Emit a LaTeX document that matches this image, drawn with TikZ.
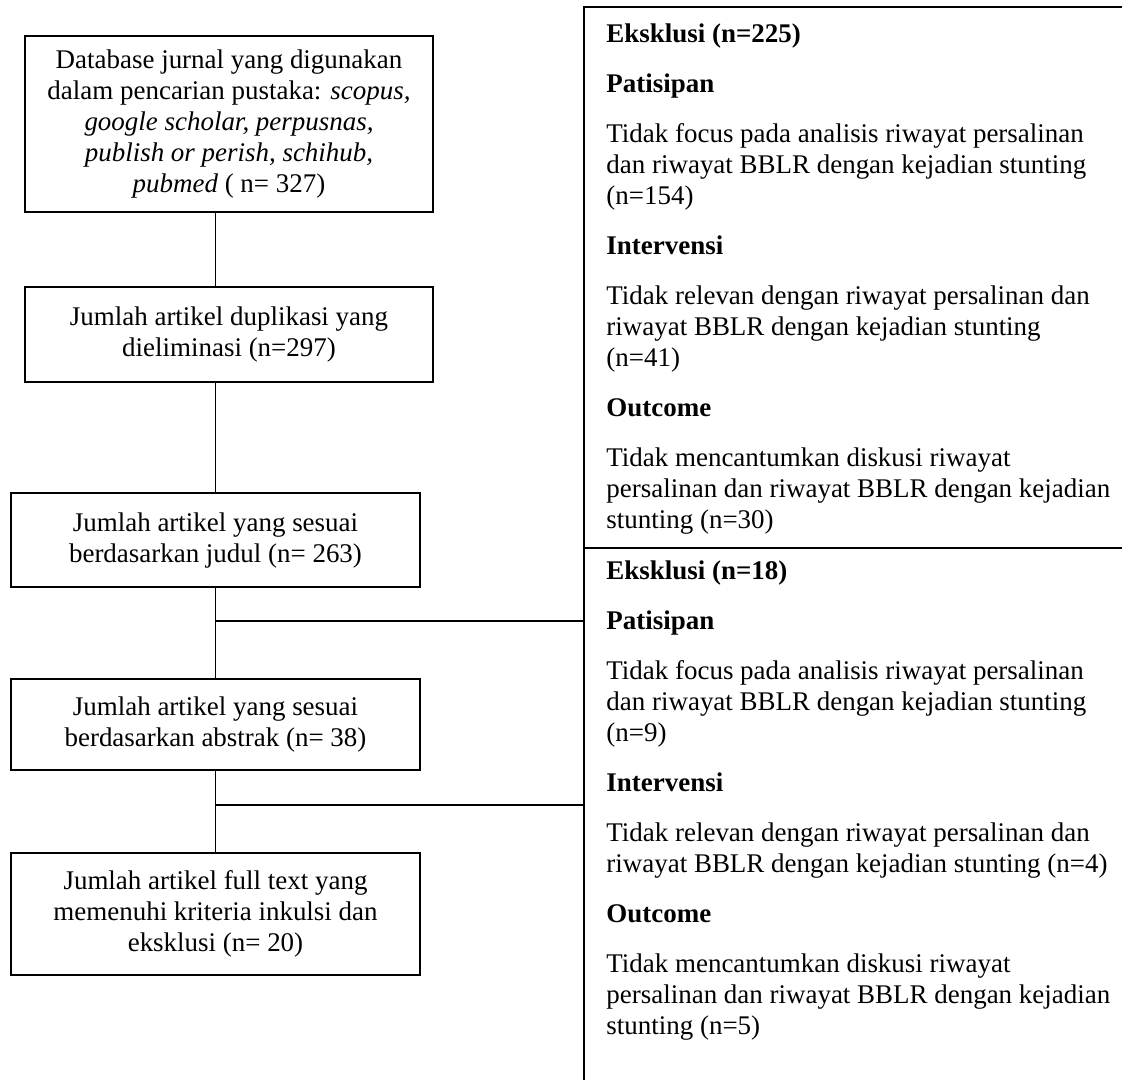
\documentclass[tikz,border=0pt]{standalone}
\usepackage{fontspec}
\setmainfont{Liberation Serif}
\newlength\pxu
\setlength\pxu{0.4452pt}
\newcommand\pgap{8.5pt}
\begin{document}
\begin{tikzpicture}[x=0.4452pt, y=-0.4452pt,
  box/.style={draw, line width=1pt, align=center, inner sep=0pt, minimum width=409\pxu, font=\fontsize{12}{13.8}\selectfont},
  wide/.style={box, minimum width=408\pxu},
  reason/.style={align=left, inner sep=0pt, anchor=north west, font=\fontsize{12}{13.8}\selectfont},
  link/.style={line width=0.7pt},
  frame/.style={line width=1pt}]
\useasboundingbox (0,0) rectangle (1122,1080);
% left column
\node[wide, minimum height=176\pxu] (b1) at (229,124) {Database jurnal yang digunakan\\ dalam pencarian pustaka: \textit{scopus,}\\ \textit{google scholar, perpusnas,}\\ \textit{publish or perish, schihub,}\\ \textit{pubmed} ( n= 327)};
\node[wide, minimum height=95\pxu] (b2) at (229,334.5) {Jumlah artikel duplikasi yang\\ dieliminasi (n=297)};
\node[box, minimum height=94\pxu] (b3) at (215.5,540) {Jumlah artikel yang sesuai\\ berdasarkan judul (n= 263)};
\node[box, minimum height=91\pxu] (b4) at (215.5,724.5) {Jumlah artikel yang sesuai\\ berdasarkan abstrak (n= 38)};
\node[box, minimum height=122\pxu] (b5) at (215.5,914) {Jumlah artikel full text yang\\ memenuhi kriteria inkulsi dan\\ eksklusi (n= 20)};
\path[draw,link] (b3.north |- b1.south) -- (b3.north |- b2.north);
\path[draw,link] (b3.north |- b2.south) -- (b3.north);
\path[draw,link] (b3.south) -- (b4.north);
\path[draw,link] (b4.south) -- (b5.north);
% exclusion panel
\coordinate (tr) at (1122,7);
\coordinate (tl) at (584,7);
\coordinate (bl) at (584,1080);
\coordinate (ml) at (584,548);
\coordinate (mr) at (1122,548);
\coordinate (in1) at (584,621);
\coordinate (in2) at (584,805);
\path[draw,frame] (tr) -- (tl) -- (bl);
\path[draw,frame] (ml) -- (mr);
\path[draw,link] (b3.south |- in1) -- (in1);
\path[draw,link] (b4.south |- in2) -- (in2);
\node[reason] (exc1) at (606,23) {\textbf{Eksklusi (n=225)}\\[\pgap]
\textbf{Patisipan}\\[\pgap]
Tidak focus pada analisis riwayat persalinan\\
dan riwayat BBLR dengan kejadian stunting\\
(n=154)\\[\pgap]
\textbf{Intervensi}\\[\pgap]
Tidak relevan dengan riwayat persalinan dan\\
riwayat BBLR dengan kejadian stunting\\
(n=41)\\[\pgap]
\textbf{Outcome}\\[\pgap]
Tidak mencantumkan diskusi riwayat\\
persalinan dan riwayat BBLR dengan kejadian\\
stunting (n=30)};
\node[reason] (exc2) at (606,560) {\textbf{Eksklusi (n=18)}\\[\pgap]
\textbf{Patisipan}\\[\pgap]
Tidak focus pada analisis riwayat persalinan\\
dan riwayat BBLR dengan kejadian stunting\\
(n=9)\\[\pgap]
\textbf{Intervensi}\\[\pgap]
Tidak relevan dengan riwayat persalinan dan\\
riwayat BBLR dengan kejadian stunting (n=4)\\[\pgap]
\textbf{Outcome}\\[\pgap]
Tidak mencantumkan diskusi riwayat\\
persalinan dan riwayat BBLR dengan kejadian\\
stunting (n=5)};
\end{tikzpicture}
\end{document}
